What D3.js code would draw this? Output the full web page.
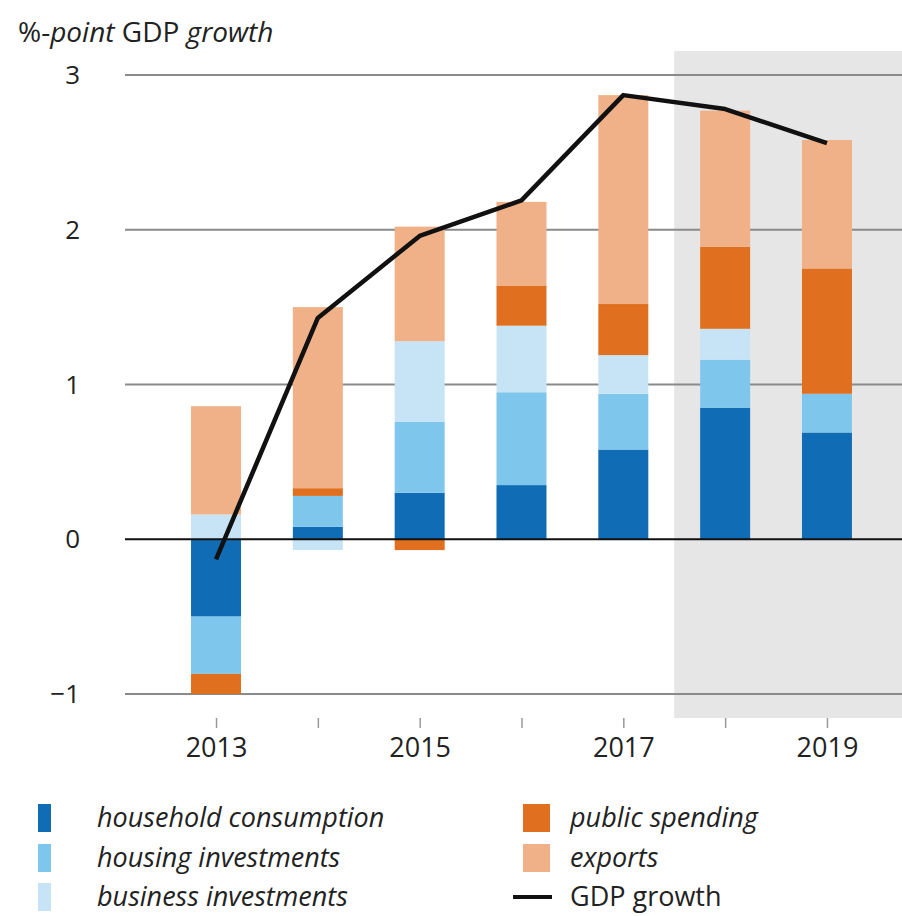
<!DOCTYPE html>
<html><head><meta charset="utf-8">
<script src="https://cdn.jsdelivr.net/npm/d3@7"></script>
<style>body{margin:0;background:#fff}svg{display:block}text{font-family:"Open Sans",sans-serif;fill:#222}</style>
</head><body><svg id="c" width="902" height="916"></svg>
<script>
const years = [2013, 2014, 2015, 2016, 2017, 2018, 2019];
const household = [-0.50, 0.08, 0.30, 0.35, 0.58, 0.85, 0.69];
const housing   = [-0.37, 0.20, 0.46, 0.60, 0.36, 0.31, 0.25];
const business  = [0.16, -0.07, 0.52, 0.43, 0.25, 0.20, 0.00];
const publicSp  = [-0.13, 0.05, -0.07, 0.26, 0.33, 0.53, 0.81];
const exportsV  = [0.70, 1.17, 0.74, 0.54, 1.35, 0.88, 0.83];
const gdp       = [-0.13, 1.43, 1.96, 2.19, 2.87, 2.78, 2.56];
const yTicks = [-1, 0, 1, 2, 3];
const xLabelYears = [2013, 2015, 2017, 2019];
const seriesNames = ["household consumption","housing investments","business investments","public spending","exports"];
const keys = ["household","housing","business","public","exports"];
const colors = ["#106db5","#7fc6ec","#c6e4f5","#e0701f","#f0b189"];

const svg = d3.select("#c");
const x = d3.scaleLinear().domain([2012.106, 2019.737]).range([125, 902]);
const y = d3.scaleLinear().domain([-1, 3]).range([694, 75]);

// forecast shading
svg.append("rect").attr("x", x(2017.5)).attr("y", y(3.155))
  .attr("width", x(2019.737) - x(2017.5)).attr("height", y(-1.155) - y(3.155))
  .attr("fill", "#e6e6e6");

// gridlines
svg.append("g").selectAll("line").data(yTicks.filter(d => d !== 0)).join("line")
  .attr("x1", x(2012.106)).attr("x2", x(2019.737))
  .attr("y1", d => y(d)).attr("y2", d => y(d))
  .attr("stroke", "#8a8a8a").attr("stroke-width", 2);

// y labels
svg.append("g").selectAll("text").data(yTicks).join("text")
  .attr("x", 80).attr("y", d => y(d)).attr("dy", "0.35em")
  .attr("text-anchor", "end").attr("font-size", 26)
  .text(d => d < 0 ? "\u2212" + Math.abs(d) : d);

// stacked bars
const table = years.map((yr, i) => ({year: yr, household: household[i], housing: housing[i],
  business: business[i], public: publicSp[i], exports: exportsV[i]}));
const stack = d3.stack().keys(keys).offset(d3.stackOffsetDiverging);
const layers = stack(table);
const bw = 50;
svg.append("g").selectAll("g").data(layers).join("g")
  .attr("fill", (d, i) => colors[i])
  .selectAll("rect").data(d => d).join("rect")
  .attr("x", d => x(d.data.year) - bw / 2).attr("width", bw)
  .attr("y", d => y(Math.max(d[0], d[1])))
  .attr("height", d => Math.abs(y(d[0]) - y(d[1])));

// zero line
svg.append("line").attr("x1", x(2012.106)).attr("x2", x(2019.737))
  .attr("y1", y(0)).attr("y2", y(0)).attr("stroke", "#111").attr("stroke-width", 2);

// GDP line
const line = d3.line().x((d, i) => x(years[i])).y(d => y(d));
svg.append("path").datum(gdp).attr("d", line).attr("fill", "none")
  .attr("stroke", "#111").attr("stroke-width", 4.5).attr("stroke-linejoin", "round");

// x axis ticks & labels
const xAxis = d3.axisBottom(x).tickValues(years).tickSize(10)
  .tickFormat(d => xLabelYears.includes(d) ? d : "");
const gx = svg.append("g").attr("transform", `translate(0,${y(-1.155)})`).call(xAxis);
gx.select(".domain").remove();
gx.selectAll(".tick line").attr("stroke", "#999").attr("stroke-width", 1.5);
gx.selectAll(".tick text").attr("font-size", 27).attr("y", 20)
  .attr("font-family", "Open Sans, sans-serif").attr("fill", "#222");

// title
const t = svg.append("text").attr("x", 18).attr("y", 42).attr("font-size", 28);
t.append("tspan").text("%-");
t.append("tspan").attr("font-style", "italic").text("point");
t.append("tspan").text(" GDP ");
t.append("tspan").attr("font-style", "italic").text("growth");

// legend
const rowY = [818, 858, 897];
[0, 1, 2].forEach((k, r) => {
  svg.append("rect").attr("x", 38).attr("y", rowY[r] - 14).attr("width", 13).attr("height", 28).attr("fill", colors[k]);
  svg.append("text").attr("x", 97).attr("y", rowY[r]).attr("dy", "0.35em")
    .attr("font-size", 27).attr("font-style", "italic").text(seriesNames[k]);
});
[3, 4].forEach((k, r) => {
  svg.append("rect").attr("x", 523).attr("y", rowY[r] - 14).attr("width", 27).attr("height", 28).attr("fill", colors[k]);
  svg.append("text").attr("x", 570).attr("y", rowY[r]).attr("dy", "0.35em")
    .attr("font-size", 27).attr("font-style", "italic").text(seriesNames[k]);
});
svg.append("line").attr("x1", 513).attr("x2", 552).attr("y1", rowY[2]).attr("y2", rowY[2])
  .attr("stroke", "#111").attr("stroke-width", 4);
svg.append("text").attr("x", 570).attr("y", rowY[2]).attr("dy", "0.35em")
  .attr("font-size", 27).text("GDP growth");
</script></body></html>
